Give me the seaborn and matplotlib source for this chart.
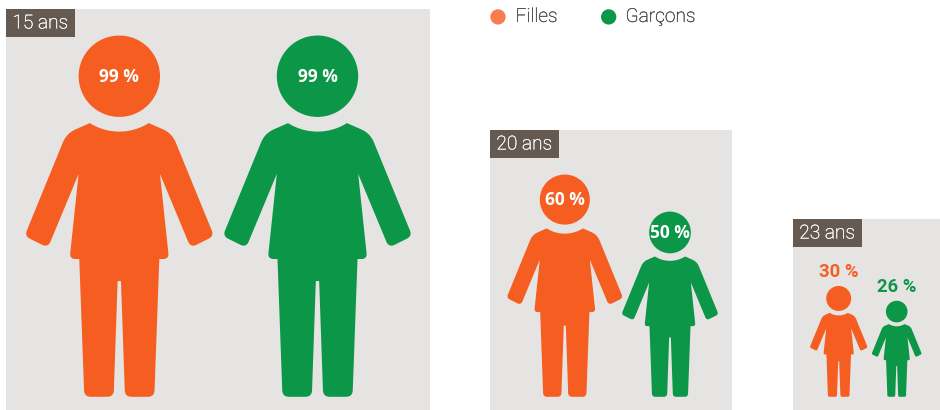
import numpy as np
import pandas as pd
import seaborn as sns
import matplotlib.pyplot as plt
import matplotlib.patheffects as pe
from matplotlib.patches import Rectangle

sns.set_theme(style="white")
plt.rcParams['font.family'] = ['Roboto', 'DejaVu Sans']

# data
ages = ["15 ans", "20 ans", "23 ans"]
filles = [99, 60, 30]
garcons = [99, 50, 26]
legende = ["Filles", "Garçons"]

# layout, in pixels of the 940x410 picture
panneaux = [(6, 9, 424, 401), (490, 130, 242, 280), (793, 219, 147, 191)]
centres_filles = [119.3, 564.8, 838.7]
centres_garcons = [317.5, 670, 896.7]
px_par_point = [3.645, 3.70, 3.69]
sol = 396.8

orange = "#F55D21"
vert = "#0C9647"
orange_legende = "#F97C50"
fond = "#E6E4E2"
brun = "#645A52"

# left half of the body outline (x, y, corner radius)
# x from the axis, y down from the head top, 1082 units = full height
contour = [
    (-87, 261, 0), (-158, 292, 30), (-284, 600, 18), (-214, 635, 20),
    (-122, 414, 0), (-149, 669, 18), (-120, 669, 0), (-105, 1082, 20),
    (-17, 1082, 20), (-5, 735, 0),
]
tete_y = 121
tete_r = 122
col_r = 166


def arrondir(points):
    out = []
    n = len(points)
    for i, (x, y, r) in enumerate(points):
        p = np.array([x, y], dtype=float)
        if r == 0 or i == 0 or i == n - 1:
            out.append(p)
            continue
        a = np.array(points[i - 1][:2], dtype=float)
        b = np.array(points[i + 1][:2], dtype=float)
        d1 = p + (a - p) / np.linalg.norm(a - p) * r
        d2 = p + (b - p) / np.linalg.norm(b - p) * r
        for t in np.linspace(0, 1, 10):
            out.append((1 - t) ** 2 * d1 + 2 * t * (1 - t) * p + t ** 2 * d2)
    return np.array(out)


def silhouette():
    gauche = arrondir(contour)
    # neck follows a circle around the head
    a0 = np.arctan2(gauche[0][0], gauche[0][1] - tete_y)
    angles = np.linspace(0, a0, 15)
    col = np.column_stack([col_r * np.sin(angles), tete_y + col_r * np.cos(angles)])
    moitie = np.vstack([col, gauche])
    droite = moitie[::-1] * [-1, 1]
    return np.vstack([moitie, droite])


rows = []
for i in range(len(ages)):
    rows.append({"sexe": "Filles", "age": ages[i], "valeur": filles[i], "x": centres_filles[i], "k": px_par_point[i]})
    rows.append({"sexe": "Garçons", "age": ages[i], "valeur": garcons[i], "x": centres_garcons[i], "k": px_par_point[i]})
df = pd.DataFrame(rows)
df["hauteur"] = df["valeur"] * df["k"]
df["haut"] = sol - df["hauteur"]
df["tete_y"] = df["haut"] + df["hauteur"] * tete_y / 1082
df["tete_d"] = 2 * df["hauteur"] * tete_r / 1082

# 4.1 alone gets truncated to 409 px
fig = plt.figure(figsize=(9.4, 4.101), dpi=100)
ax = fig.add_axes([0, 0, 1, 1])

for age, (x, y, w, h) in zip(ages, panneaux):
    ax.add_patch(Rectangle((x, y), w, h, color=fond, lw=0, zorder=0))
    ax.add_patch(Rectangle((x, y), 69, 28, color=brun, lw=0, zorder=1))
    t = ax.text(x + 34.2, y + 14.5, age, color="white", fontsize=13.8, fontweight="light",
                ha="center", va="center", zorder=2)
    # light weight comes out too faint, thicken it a little
    t.set_path_effects([pe.withStroke(linewidth=0.25, foreground="white")])

forme = silhouette()
palette = {"Filles": orange, "Garçons": vert}
for _, r in df.iterrows():
    ech = r["hauteur"] / 1082
    ax.fill(r["x"] + forme[:, 0] * ech, r["haut"] + forme[:, 1] * ech,
            color=palette[r["sexe"]], lw=0, zorder=2)

# heads: marker area in points^2 from the figure height
aires = {v: (d * 72 / fig.dpi) ** 2 for v, d in zip(df["valeur"], df["tete_d"])}
sns.scatterplot(data=df, x="x", y="tete_y", hue="sexe", palette=palette, size="valeur",
                sizes=aires, linewidth=0, legend=False, zorder=3, ax=ax)

for _, r in df.iterrows():
    if r["valeur"] >= 50:
        ax.text(r["x"], r["tete_y"] + 0.5, "{} %".format(r["valeur"]), color="white", fontsize=12.5,
                fontweight="bold", family=["Open Sans", "DejaVu Sans"], ha="center", va="center", zorder=4)
    else:
        ax.text(r["x"], r["haut"] - 14, "{} %".format(r["valeur"]), color=palette[r["sexe"]], fontsize=13.2,
                fontweight="bold", ha="center", va="center", zorder=4)

# legend
leg = pd.DataFrame({"sexe": legende, "x": [498, 608.7], "y": [17, 17]})
sns.scatterplot(data=leg, x="x", y="y", hue="sexe", palette={"Filles": orange_legende, "Garçons": vert},
                s=(15.3 * 0.72) ** 2, linewidth=0, legend=False, ax=ax)
for nom, x in zip(legende, [515.5, 625.5]):
    t = ax.text(x, 17, nom, color="#4A4A4A", fontsize=13.8, fontweight="light", ha="left", va="center")
    t.set_path_effects([pe.withStroke(linewidth=0.25, foreground="#4A4A4A")])

ax.set_xlim(0, 940)
ax.set_ylim(410, 0)
ax.axis("off")

plt.savefig("out.png", dpi=100)
